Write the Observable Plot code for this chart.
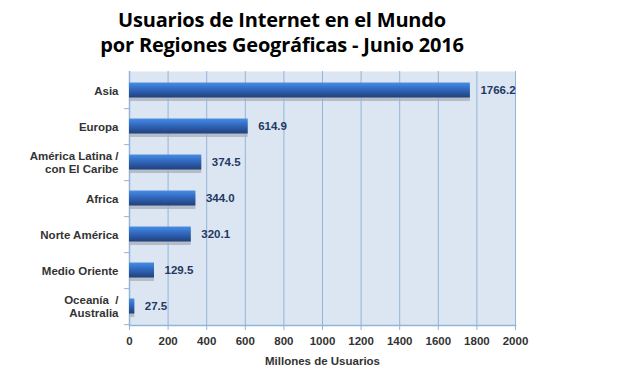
<!DOCTYPE html>
<html>
<head>
<meta charset="utf-8">
<script src="https://cdn.jsdelivr.net/npm/d3@7"></script>
<script src="https://cdn.jsdelivr.net/npm/@observablehq/plot@0.6"></script>
<style>
  html, body { margin: 0; padding: 0; background: #fff; }
  #wrap { width: 621px; height: 373px; position: relative; overflow: hidden; }
  #title { position: absolute; left: 0; top: 7px; width: 564px; text-align: center;
           font-family: "Open Sans", sans-serif; font-weight: bold;
           font-size: 20px; line-height: 25px; color: #000; letter-spacing: -0.2px; }
  #chart { position: absolute; left: 0; top: 65px; }
  svg text { font-family: "Liberation Sans", Arial, sans-serif; }
</style>
</head>
<body>
<div id="wrap">
  <div id="title">Usuarios de Internet en el Mundo<br>por Regiones Geográficas - Junio 2016</div>
  <div id="chart"></div>
</div>
<script>
const regions = ["Asia", "Europa", "América Latina /\ncon El Caribe", "Africa", "Norte América", "Medio Oriente", "Oceanía  /\nAustralia"];
const users = [1766.2, 614.9, 374.5, 344.0, 320.1, 129.5, 27.5];
const xTicks = [0, 200, 400, 600, 800, 1000, 1200, 1400, 1600, 1800, 2000];
const axisTitle = "Millones de Usuarios";

const data = regions.map((r, i) => ({region: r, value: users[i]}));
const gridColor = "#95B3D7";
const bandHalf = (308 - 6 - 48) / regions.length / 2;

const chart = Plot.plot({
  width: 621,
  height: 308,
  marginTop: 6,
  marginBottom: 48,
  marginLeft: 129,
  marginRight: 106,
  x: {domain: [0, 2000], ticks: xTicks},
  y: {domain: regions, padding: 0},
  marks: [
    Plot.frame({fill: "#DCE6F2", stroke: "none"}),
    Plot.gridX(xTicks, {stroke: gridColor, strokeOpacity: 1, strokeWidth: 1}),
    Plot.ruleX([0], {stroke: gridColor, strokeWidth: 1.5}),
    Plot.frame({anchor: "bottom", stroke: gridColor, strokeWidth: 1.5}),
    Plot.axisX(xTicks, {tickSize: 5, tickPadding: 6, stroke: gridColor, fill: "#333", fontWeight: "bold", fontSize: 11.5, label: null, tickFormat: d => String(d)}),
    Plot.axisY({tickSize: 0, tickPadding: 11, fill: "#333", fontWeight: "bold", fontSize: 11.5, lineHeight: 1.1, label: null, textAnchor: "end"}),
    Plot.axisY({tickSize: 5, text: null, dy: bandHalf, stroke: gridColor, label: null}),
    Plot.barX(data, {x: "value", y: "region", insetTop: 13, insetBottom: 7, fill: "#A7AEB9", fillOpacity: 0.75}),
    Plot.barX(data, {x: "value", y: "region", insetTop: 10.5, insetBottom: 10.5, fill: "url(#barGrad)"}),
    Plot.text(data, {x: "value", y: "region", text: d => d.value.toFixed(1), dx: 10, dy: -0.5, textAnchor: "start", fill: "#1F3864", fontWeight: "bold", fontSize: 11.5}),
    Plot.text([axisTitle], {frameAnchor: "bottom", dy: 39, fill: "#333", fontWeight: "bold", fontSize: 11.5})
  ]
});

const defs = d3.select(chart).insert("defs", ":first-child");
const g = defs.append("linearGradient").attr("id", "barGrad").attr("x1", 0).attr("y1", 0).attr("x2", 0).attr("y2", 1);
g.append("stop").attr("offset", "0%").attr("stop-color", "#4A8EE2");
g.append("stop").attr("offset", "35%").attr("stop-color", "#3470C8");
g.append("stop").attr("offset", "100%").attr("stop-color", "#213F7A");

document.getElementById("chart").appendChild(chart);
</script>
</body>
</html>
